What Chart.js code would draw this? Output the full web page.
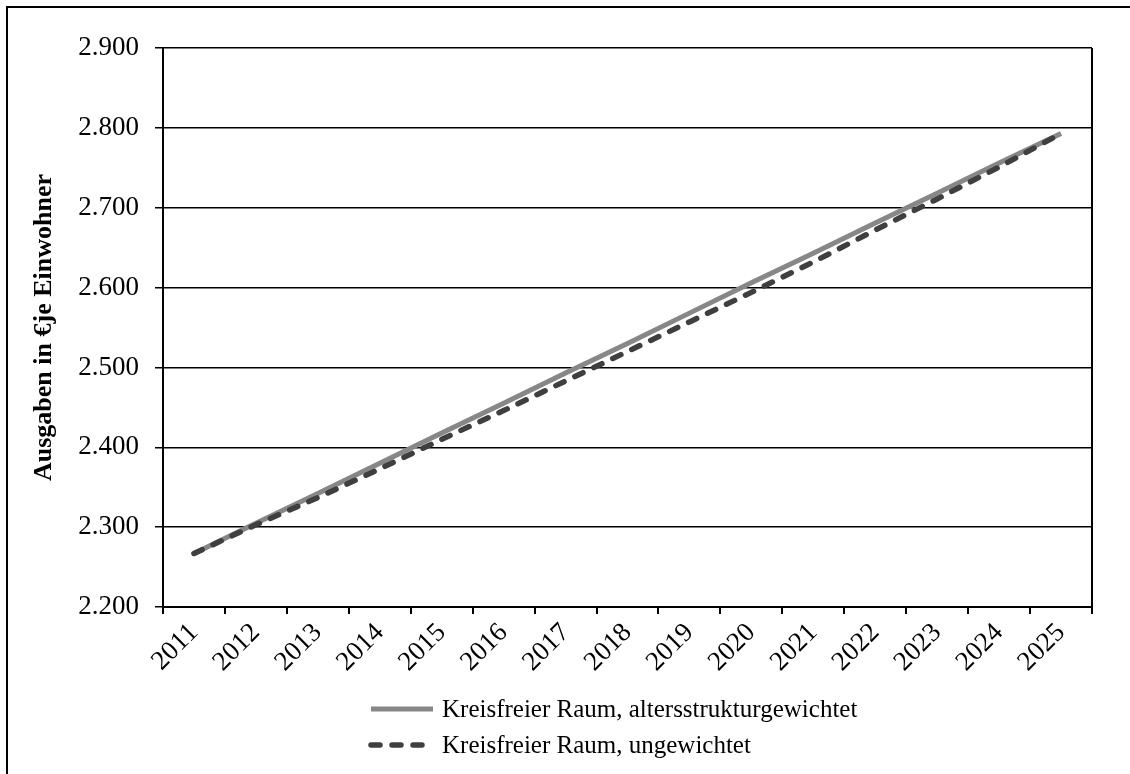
<!DOCTYPE html>
<html>
<head>
<meta charset="utf-8">
<script src="https://cdn.jsdelivr.net/npm/chart.js@4"></script>
<style>
  html, body { margin: 0; padding: 0; background: #fff; }
  #wrap { width: 1130px; height: 774px; }
</style>
</head>
<body>
<div id="wrap"><canvas id="c" width="1130" height="774"></canvas></div>
<script>
const years = ['2011','2012','2013','2014','2015','2016','2017','2018','2019','2020','2021','2022','2023','2024','2025'];
const gewichtet = [2267, 2305, 2342, 2380, 2418, 2455, 2493, 2530, 2568, 2606, 2643, 2681, 2718, 2756, 2793];
const ungewichtet = [2267, 2303, 2337, 2373, 2410, 2446, 2483, 2520, 2557, 2594, 2632, 2672, 2711, 2751, 2793];
const seriesLabels = ['Kreisfreier Raum, altersstrukturgewichtet', 'Kreisfreier Raum, ungewichtet'];
const yTitle = 'Ausgaben in €je Einwohner';
const yMin = 2200, yMax = 2900, yStep = 100;

const FONT = "'Liberation Serif', 'Times New Roman', serif";

const frame = {
  id: 'frame',
  beforeDraw(chart) {
    const ctx = chart.ctx;
    ctx.save();
    ctx.fillStyle = '#fff';
    ctx.fillRect(0, 0, chart.width, chart.height);
    ctx.strokeStyle = '#000';
    ctx.lineWidth = 2;
    ctx.beginPath();
    ctx.moveTo(7, chart.height + 5);
    ctx.lineTo(7, 7);
    ctx.lineTo(chart.width + 5, 7);
    ctx.stroke();
    ctx.restore();
  },
  afterDraw(chart) {
    const ctx = chart.ctx;
    const a = chart.chartArea;
    ctx.save();
    ctx.strokeStyle = '#000';
    ctx.lineWidth = 2;
    ctx.beginPath();
    ctx.moveTo(a.right, a.top);
    ctx.lineTo(a.right, a.bottom);
    ctx.stroke();
    // legend
    const x0 = a.left + 205;
    const sampleW = 65;
    ctx.font = '25px ' + FONT;
    ctx.textBaseline = 'middle';
    ctx.textAlign = 'left';
    chart.data.datasets.forEach((ds, i) => {
      const y = a.bottom + 102 + i * 36;
      ctx.save();
      ctx.strokeStyle = ds.borderColor;
      ctx.lineWidth = ds.borderWidth;
      ctx.lineCap = ds.borderCapStyle || 'butt';
      ctx.setLineDash(ds.borderDash || []);
      ctx.beginPath();
      ctx.moveTo(x0 + 3, y);
      ctx.lineTo(x0 + sampleW, y);
      ctx.stroke();
      ctx.restore();
      ctx.fillStyle = '#000';
      ctx.fillText(ds.label, x0 + sampleW + 9, y + 1);
    });
    ctx.restore();
  }
};

new Chart(document.getElementById('c'), {
  type: 'line',
  data: {
    labels: years,
    datasets: [
      {
        label: seriesLabels[0],
        data: gewichtet,
        borderColor: '#878787',
        borderWidth: 5,
        pointRadius: 0,
        tension: 0,
        order: 1
      },
      {
        label: seriesLabels[1],
        data: ungewichtet,
        borderColor: '#3f3f3f',
        borderWidth: 5.5,
        borderDash: [9, 12],
        borderCapStyle: 'round',
        pointRadius: 0,
        tension: 0,
        order: 0
      }
    ]
  },
  options: {
    responsive: false,
    animation: false,
    layout: { padding: { top: 48, right: 38, bottom: 87, left: 20 } },
    plugins: {
      legend: { display: false },
      tooltip: { enabled: false }
    },
    scales: {
      x: {
        offset: true,
        grid: { drawOnChartArea: false, drawTicks: true, tickLength: 7, color: '#000', lineWidth: 2, offset: true },
        border: { display: true, color: '#000', width: 2 },
        ticks: {
          color: '#000',
          font: { family: FONT, size: 27 },
          minRotation: 45,
          maxRotation: 45,
          padding: 3,
          autoSkip: false
        },
        afterFit(scale) { scale.height = 80; }
      },
      y: {
        min: yMin,
        max: yMax,
        grid: { color: '#000', lineWidth: 1.5, drawTicks: true, tickLength: 8, tickColor: '#000' },
        border: { display: true, color: '#000', width: 2 },
        ticks: {
          stepSize: yStep,
          color: '#000',
          padding: 16,
          font: { family: FONT, size: 27 },
          callback: (v) => (v / 1000).toFixed(3)
        },
        title: {
          display: true,
          text: yTitle,
          color: '#000',
          font: { family: FONT, size: 26, weight: 'bold' },
          padding: { top: 9, bottom: 0 }
        },
        afterFit(scale) { scale.width = 143; }
      }
    }
  },
  plugins: [frame]
});
</script>
</body>
</html>
